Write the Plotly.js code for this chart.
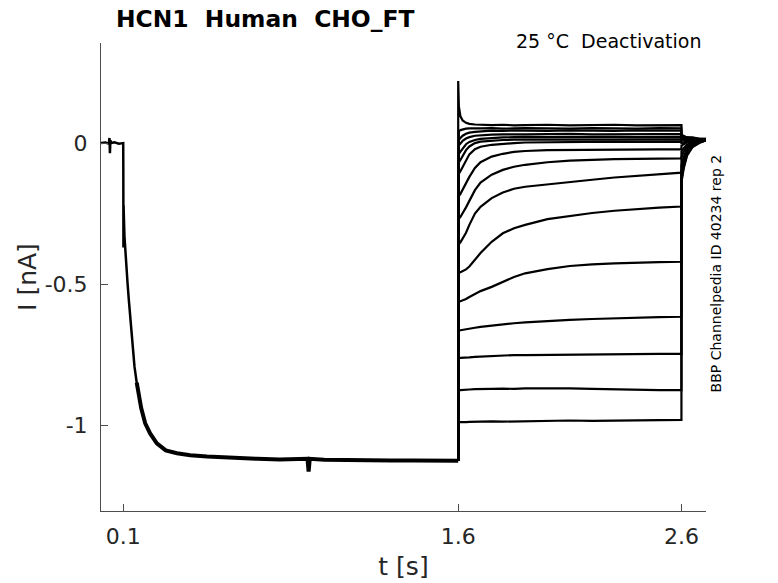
<!DOCTYPE html>
<html>
<head>
<meta charset="utf-8">
<script src="https://cdn.plot.ly/plotly-3.0.1.min.js"></script>
<style>
    html, body { margin: 0; padding: 0; background: white; }
    #plotly-chart { width: 778px; height: 583px; }
</style>
</head>
<body>
<div id="plotly-chart"></div>
<script>
// activation step (holding -> hyperpolarised), shared by every sweep
const actT = [0, 0.02, 0.035, 0.038, 0.04, 0.042, 0.045, 0.06, 0.08, 0.0995, 0.1, 0.1005, 0.101, 0.105, 0.11, 0.113, 0.119, 0.125, 0.131, 0.14, 0.15, 0.16, 0.168, 0.18, 0.198];
const actI = [0, 0.002, -0.002, 0.018, -0.036, 0.01, 0.0, 0.003, -0.002, 0.0, -0.1, -0.37, -0.22, -0.33, -0.4, -0.438, -0.498, -0.56, -0.616, -0.71, -0.793, -0.85, -0.888, -0.94, -0.994];

// noisy plateau of the activation step
const plateauT = [0.16, 0.168, 0.18, 0.198, 0.22, 0.25, 0.29, 0.34, 0.4, 0.475, 0.55, 0.609, 0.7, 0.8, 0.9, 0.925, 0.93, 0.935, 1.0, 1.1, 1.2, 1.3, 1.4, 1.5, 1.6];
const plateauI = [-0.85, -0.888, -0.94, -0.994, -1.03, -1.065, -1.09, -1.1, -1.107, -1.112, -1.115, -1.118, -1.12, -1.122, -1.122, -1.12, -1.165, -1.12, -1.123, -1.125, -1.125, -1.126, -1.126, -1.127, -1.127];

// deactivation test pulses + return to holding, one array per sweep
const tailT = [1.6, 1.6, 1.603, 1.61, 1.62, 1.635, 1.65, 1.675, 1.7, 1.75, 1.8, 1.85, 1.9, 2.0, 2.1, 2.2, 2.3, 2.4, 2.5, 2.6, 2.6, 2.61, 2.625, 2.65, 2.68, 2.71];
const tail01 = [-1.127, 0.22, 0.13, 0.095, 0.08, 0.072, 0.068, 0.066, 0.065, 0.064, 0.065, 0.063, 0.064, 0.065, 0.063, 0.064, 0.065, 0.063, 0.064, 0.064, 0.03, 0.025, 0.02, 0.02, 0.015, 0.015];
const tail02 = [-1.127, 0.04, 0.042, 0.046, 0.049, 0.051, 0.052, 0.053, 0.052, 0.053, 0.051, 0.052, 0.053, 0.052, 0.051, 0.053, 0.052, 0.051, 0.053, 0.052, 0.025, 0.022, 0.02, 0.018, 0.015, 0.015];
const tail03 = [-1.127, 0.01, 0.012, 0.018, 0.026, 0.033, 0.037, 0.04, 0.042, 0.044, 0.043, 0.045, 0.044, 0.043, 0.045, 0.044, 0.043, 0.045, 0.044, 0.044, 0.02, 0.02, 0.018, 0.016, 0.014, 0.013];
const tail04 = [-1.127, -0.01, -0.008, -0.002, 0.008, 0.016, 0.021, 0.026, 0.028, 0.03, 0.031, 0.032, 0.031, 0.032, 0.033, 0.031, 0.032, 0.033, 0.032, 0.032, 0.02, 0.018, 0.016, 0.015, 0.013, 0.012];
const tail05 = [-1.127, -0.04, -0.038, -0.03, -0.018, -0.004, 0.004, 0.011, 0.015, 0.018, 0.02, 0.021, 0.022, 0.021, 0.022, 0.023, 0.022, 0.021, 0.022, 0.022, 0.015, 0.014, 0.013, 0.012, 0.012, 0.011];
const tail06 = [-1.127, -0.07, -0.068, -0.06, -0.045, -0.025, -0.012, 0.0, 0.005, 0.009, 0.011, 0.012, 0.012, 0.013, 0.012, 0.013, 0.014, 0.012, 0.013, 0.013, 0.01, 0.01, 0.01, 0.01, 0.01, 0.01];
const tail07 = [-1.127, -0.11, -0.108, -0.1, -0.085, -0.06, -0.04, -0.022, -0.013, -0.006, -0.002, 0.0, 0.002, 0.003, 0.004, 0.004, 0.005, 0.004, 0.005, 0.005, 0.0, 0.003, 0.006, 0.008, 0.009, 0.01];
const tail08 = [-1.127, -0.19, -0.188, -0.18, -0.165, -0.14, -0.12, -0.088, -0.068, -0.048, -0.038, -0.031, -0.028, -0.025, -0.024, -0.023, -0.023, -0.022, -0.022, -0.022, -0.01, -0.004, 0.002, 0.006, 0.008, 0.01];
const tail09 = [-1.127, -0.27, -0.268, -0.262, -0.25, -0.228, -0.205, -0.167, -0.14, -0.112, -0.095, -0.084, -0.077, -0.068, -0.062, -0.059, -0.057, -0.056, -0.055, -0.054, -0.03, -0.018, -0.006, 0.003, 0.007, 0.01];
const tail10 = [-1.127, -0.36, -0.358, -0.352, -0.34, -0.318, -0.29, -0.25, -0.226, -0.195, -0.175, -0.162, -0.155, -0.146, -0.138, -0.13, -0.122, -0.116, -0.11, -0.105, -0.05, -0.03, -0.012, 0.0, 0.006, 0.01];
const tail11 = [-1.127, -0.46, -0.46, -0.458, -0.455, -0.448, -0.438, -0.415, -0.39, -0.35, -0.32, -0.302, -0.29, -0.27, -0.258, -0.248, -0.24, -0.234, -0.229, -0.225, -0.08, -0.05, -0.02, -0.002, 0.006, 0.01];
const tail12 = [-1.127, -0.562, -0.562, -0.561, -0.558, -0.553, -0.546, -0.535, -0.525, -0.51, -0.493, -0.475, -0.462, -0.447, -0.436, -0.43, -0.427, -0.424, -0.422, -0.421, -0.1, -0.065, -0.028, -0.005, 0.005, 0.01];
const tail13 = [-1.127, -0.665, -0.665, -0.664, -0.663, -0.661, -0.658, -0.655, -0.652, -0.647, -0.643, -0.639, -0.636, -0.631, -0.627, -0.624, -0.621, -0.619, -0.617, -0.616, -0.11, -0.072, -0.032, -0.008, 0.004, 0.01];
const tail14 = [-1.127, -0.763, -0.763, -0.762, -0.762, -0.761, -0.76, -0.758, -0.757, -0.755, -0.754, -0.752, -0.752, -0.751, -0.75, -0.75, -0.749, -0.749, -0.748, -0.748, -0.12, -0.08, -0.036, -0.01, 0.003, 0.01];
const tail15 = [-1.127, -0.878, -0.877, -0.876, -0.875, -0.874, -0.874, -0.873, -0.872, -0.872, -0.871, -0.872, -0.87, -0.869, -0.87, -0.872, -0.874, -0.875, -0.876, -0.876, -0.13, -0.085, -0.04, -0.012, 0.002, 0.01];
const tail16 = [-1.127, -0.99, -0.99, -0.99, -0.989, -0.99, -0.989, -0.988, -0.988, -0.987, -0.988, -0.987, -0.986, -0.985, -0.984, -0.985, -0.984, -0.983, -0.983, -0.982, -0.14, -0.09, -0.045, -0.014, 0.0, 0.01];
const tailSweeps = [tail01, tail02, tail03, tail04, tail05, tail06, tail07, tail08,
                    tail09, tail10, tail11, tail12, tail13, tail14, tail15, tail16];

const xTicks = [0.1, 1.6, 2.6];
const xTickText = ['0.1', '1.6', '2.6'];
const yTicks = [-1, -0.5, 0];
const yTickText = ['-1', '-0.5', '0'];

const chartElement = document.getElementById('plotly-chart');
const FONT = 'DejaVu Sans, sans-serif';
const TEXT_COLOR = '#262626';
const AXIS_COLOR = '#4d4d4d';

function lineTrace(x, y, width) {
    return {
        x: x,
        y: y,
        type: 'scatter',
        mode: 'lines',
        line: { color: 'black', width: width },
        hoverinfo: 'skip',
        showlegend: false
    };
}

const traces = [
    lineTrace(actT, actI, 2.5),
    lineTrace(plateauT, plateauI, 4)
];
tailSweeps.forEach(sweep => traces.push(lineTrace(tailT, sweep, 2.2)));

const layout = {
    width: 778,
    height: 583,
    plot_bgcolor: 'white',
    paper_bgcolor: 'white',
    font: { family: FONT, color: TEXT_COLOR },
    margin: { l: 101, r: 72, t: 43, b: 72, pad: 0 },
    showlegend: false,
    title: {
        text: 'HCN1  Human  CHO_FT',
        font: { family: FONT, size: 23.4, weight: 'bold', color: 'black' },
        xref: 'container',
        yref: 'container',
        x: 0.149,
        xanchor: 'left',
        y: 0.968,
        yanchor: 'middle'
    },
    xaxis: {
        range: [0, 2.71],
        showgrid: false,
        zeroline: false,
        showline: true,
        linecolor: AXIS_COLOR,
        linewidth: 1,
        ticks: 'inside',
        ticklen: 7,
        tickcolor: AXIS_COLOR,
        tickvals: xTicks,
        ticktext: xTickText,
        tickfont: { family: FONT, size: 22, color: TEXT_COLOR },
        ticklabelstandoff: 6,
        title: { text: 't [s]', font: { family: FONT, size: 25, color: TEXT_COLOR }, standoff: 9 }
    },
    yaxis: {
        range: [-1.305, 0.355],
        showgrid: false,
        zeroline: false,
        showline: true,
        linecolor: AXIS_COLOR,
        linewidth: 1,
        ticks: 'inside',
        ticklen: 7,
        tickcolor: AXIS_COLOR,
        tickvals: yTicks,
        ticktext: yTickText,
        tickfont: { family: FONT, size: 22, color: TEXT_COLOR },
        ticklabelstandoff: 8,
        title: { text: 'I [nA]', font: { family: FONT, size: 25, color: TEXT_COLOR }, standoff: 0 }
    },
    annotations: [
        {
            text: '25 °C  Deactivation',
            xref: 'paper',
            yref: 'paper',
            x: 0.995,
            y: 1.004,
            xanchor: 'right',
            yanchor: 'middle',
            showarrow: false,
            font: { family: FONT, size: 19, color: 'black' }
        },
        {
            text: 'BBP Channelpedia ID 40234 rep 2',
            xref: 'paper',
            yref: 'paper',
            x: 1.018,
            y: 0.5075,
            xanchor: 'center',
            yanchor: 'middle',
            textangle: -90,
            showarrow: false,
            font: { family: FONT, size: 14, color: 'black' }
        }
    ]
};

Plotly.newPlot(chartElement, traces, layout, { displayModeBar: false, staticPlot: true });
</script>
</body>
</html>
